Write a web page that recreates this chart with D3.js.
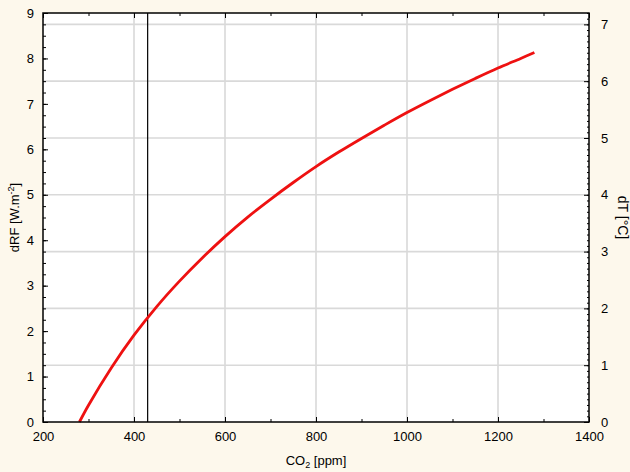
<!DOCTYPE html>
<html>
<head>
<meta charset="utf-8">
<script src="https://cdn.jsdelivr.net/npm/d3@7"></script>
<style>
html,body{margin:0;padding:0;background:#fdf8ec;}
svg{display:block;font-family:"Liberation Sans",Arial,sans-serif;}
</style>
</head>
<body>
<svg id="chart" width="630" height="472"></svg>
<script>
// Data
const co2 = [280, 300, 350, 400, 450, 500, 550, 600, 650, 700, 750, 800, 850, 900, 950, 1000, 1050, 1100, 1150, 1200, 1250, 1280];
const dRF = [0, 0.37, 1.19, 1.91, 2.54, 3.10, 3.61, 4.08, 4.51, 4.90, 5.27, 5.62, 5.94, 6.24, 6.53, 6.81, 7.07, 7.32, 7.56, 7.79, 8.00, 8.13];
const markerCO2 = 430;
const xTicks = [200, 400, 600, 800, 1000, 1200, 1400];
const yLeftTicks = [0, 1, 2, 3, 4, 5, 6, 7, 8, 9];
const yRightTicks = [0, 1, 2, 3, 4, 5, 6, 7];

const svg = d3.select("#chart");
const L = 43, R = 589, T = 13, B = 422;

const x = d3.scaleLinear().domain([200, 1400]).range([L, R]);
const yL = d3.scaleLinear().domain([0, 9]).range([B, T]);
const yR = d3.scaleLinear().domain([0, 7.2]).range([B, T]);

// plot background
svg.append("rect").attr("x", L).attr("y", T).attr("width", R - L).attr("height", B - T).attr("fill", "#fff");

// grid
const grid = svg.append("g").attr("stroke", "#d9d9d9").attr("stroke-width", 1.6);
xTicks.filter(v => v > 200 && v < 1400).forEach(v => {
  grid.append("line").attr("x1", x(v)).attr("x2", x(v)).attr("y1", T).attr("y2", B);
});
yRightTicks.filter(v => v > 0).forEach(v => {
  grid.append("line").attr("x1", L).attr("x2", R).attr("y1", yR(v)).attr("y2", yR(v));
});

// vertical marker line
svg.append("line").attr("x1", x(markerCO2)).attr("x2", x(markerCO2)).attr("y1", T).attr("y2", B)
  .attr("stroke", "#000").attr("stroke-width", 1.2);

// curve
const pts = co2.map((c, i) => [c, dRF[i]]);
svg.append("path").datum(pts)
  .attr("d", d3.line().x(d => x(d[0])).y(d => yL(d[1])).curve(d3.curveCatmullRom))
  .attr("fill", "none").attr("stroke", "#ee1111").attr("stroke-width", 2.8);

// axes with inward ticks
function styleAxis(g) {
  g.select(".domain").remove();
  g.selectAll("line").attr("stroke", "#000");
  g.selectAll("text").attr("font-size", 13).attr("fill", "#000");
}
// bottom
const xMinor = d3.range(200, 1401, 100);
svg.append("g").attr("transform", `translate(0,${B})`)
  .call(d3.axisBottom(x).tickValues(xMinor).tickSize(-3).tickFormat(""))
  .call(styleAxis);
svg.append("g").attr("transform", `translate(0,${B})`)
  .call(d3.axisBottom(x).tickValues(xTicks).tickSize(-5).tickPadding(10).tickFormat(d3.format("d")))
  .call(styleAxis);
// top
svg.append("g").attr("transform", `translate(0,${T})`)
  .call(d3.axisTop(x).tickValues(xMinor).tickSize(-3).tickFormat(""))
  .call(styleAxis);
svg.append("g").attr("transform", `translate(0,${T})`)
  .call(d3.axisTop(x).tickValues(xTicks).tickSize(-5).tickFormat(""))
  .call(styleAxis);
// left
svg.append("g").attr("transform", `translate(${L},0)`)
  .call(d3.axisLeft(yL).tickValues(d3.range(0, 9.001, 0.25)).tickSize(-3).tickFormat(""))
  .call(styleAxis);
svg.append("g").attr("transform", `translate(${L},0)`)
  .call(d3.axisLeft(yL).tickValues(yLeftTicks).tickSize(-5).tickPadding(9).tickFormat(d3.format("d")))
  .call(styleAxis);
// right
svg.append("g").attr("transform", `translate(${R},0)`)
  .call(d3.axisRight(yR).tickValues(d3.range(0, 7.2001, 0.1)).tickSize(-2).tickFormat(""))
  .call(styleAxis);
svg.append("g").attr("transform", `translate(${R},0)`)
  .call(d3.axisRight(yR).tickValues(yRightTicks).tickSize(-5).tickPadding(12).tickFormat(d3.format("d")))
  .call(styleAxis);

// frame
svg.append("rect").attr("x", L).attr("y", T).attr("width", R - L).attr("height", B - T)
  .attr("fill", "none").attr("stroke", "#000").attr("stroke-width", 1.5);

// axis titles
const xt = svg.append("text").attr("x", (L + R) / 2).attr("y", 465).attr("text-anchor", "middle")
  .attr("font-size", 13);
xt.append("tspan").text("CO");
xt.append("tspan").attr("font-size", 9).attr("dy", 3).text("2");
xt.append("tspan").attr("dy", -3).text(" [ppm]");

const yt = svg.append("text").attr("transform", `translate(19,${(T + B) / 2}) rotate(-90)`)
  .attr("text-anchor", "middle").attr("font-size", 13);
yt.append("tspan").text("dRF [W.m");
yt.append("tspan").attr("font-size", 9).attr("dy", -5).text("-2");
yt.append("tspan").attr("dy", 5).text("]");

svg.append("text").attr("transform", `translate(618,${(T + B) / 2}) rotate(90)`)
  .attr("text-anchor", "middle").attr("font-size", 14).text("dT [°C]");
</script>
</body>
</html>
